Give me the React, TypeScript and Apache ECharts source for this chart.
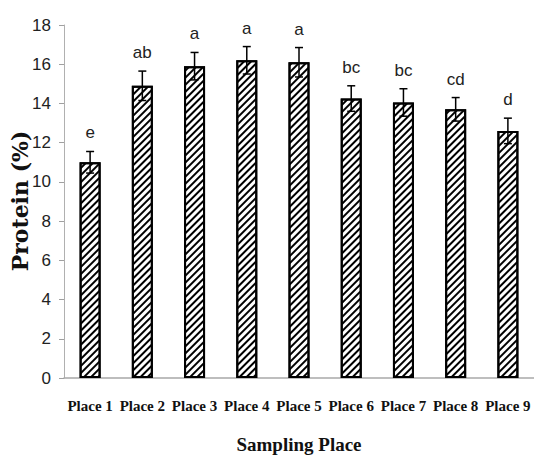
import React, { useEffect, useRef } from "react";
import * as echarts from "echarts";

const categories = ["Place 1", "Place 2", "Place 3", "Place 4", "Place 5", "Place 6", "Place 7", "Place 8", "Place 9"];
const proteinValues = [11.0, 14.9, 15.9, 16.2, 16.1, 14.25, 14.05, 13.7, 12.6];
const errorValues = [0.55, 0.75, 0.7, 0.7, 0.75, 0.65, 0.7, 0.6, 0.65];
const groupLetters = ["e", "ab", "a", "a", "a", "bc", "bc", "cd", "d"];
const yTicks = { min: 0, max: 18, interval: 2 };

const narrowSans = "'Liberation Sans Narrow', 'Liberation Sans', sans-serif";
const boldSerif = "'Liberation Serif', 'Times New Roman', serif";

export default function App() {
  const ref = useRef<HTMLDivElement>(null);

  useEffect(() => {
    document.body.style.margin = "0";
    if (!ref.current) return;
    const chart = echarts.init(ref.current, null, { renderer: "svg" });

    const errData = proteinValues.map((v, i) => [i, v, errorValues[i]]);

    chart.setOption({
      animation: false,
      backgroundColor: "#ffffff",
      grid: { left: 64, right: -4, top: 25, bottom: 80, containLabel: false },
      graphic: [
        {
          type: "text",
          x: 20,
          y: 201,
          rotation: Math.PI / 2,
          style: {
            text: "Protein (%)",
            align: "center",
            verticalAlign: "middle",
            fontFamily: "'DejaVu Serif', serif",
            fontWeight: "bold",
            fontSize: 22,
            fill: "#111",
          },
        },
      ],
      xAxis: {
        type: "category",
        data: categories,
        name: "Sampling Place",
        nameLocation: "middle",
        nameGap: 57,
        nameTextStyle: { fontFamily: boldSerif, fontWeight: "bold", fontSize: 19, color: "#111" },
        axisLine: { show: true, lineStyle: { color: "#a8a8a8", width: 1.5 } },
        axisTick: { show: false },
        axisLabel: {
          margin: 20,
          interval: 0,
          fontFamily: boldSerif,
          fontWeight: "bold",
          fontSize: 15,
          color: "#111",
        },
      },
      yAxis: {
        type: "value",
        min: yTicks.min,
        max: yTicks.max,
        interval: yTicks.interval,
        splitLine: { show: false },
        axisLine: { show: true, lineStyle: { color: "#b0b0b0", width: 1 } },
        axisTick: { show: true, length: 5, lineStyle: { color: "#a0a0a0" } },
        axisLabel: { margin: 13, fontFamily: narrowSans, fontSize: 17, color: "#222" },
      },
      series: [
        {
          type: "bar",
          data: proteinValues,
          barWidth: 21,
          z: 2,
          itemStyle: {
            color: "#ffffff",
            borderColor: "#000000",
            borderWidth: 2,
            decal: {
              symbol: "rect",
              symbolSize: 1,
              color: "#000000",
              backgroundColor: "#ffffff",
              dashArrayX: [1, 0],
              dashArrayY: [2, 3],
              rotation: -Math.PI / 4,
            },
          },
        },
        {
          type: "custom",
          z: 5,
          data: errData,
          encode: { x: 0, y: 1 },
          renderItem: (params: any, api: any) => {
            const i = api.value(0);
            const v = api.value(1);
            const e = api.value(2);
            const top = api.coord([i, v + e]);
            const bot = api.coord([i, v - e]);
            const cap = 4;
            const ls = { stroke: "#000", lineWidth: 1.5 };
            return {
              type: "group",
              children: [
                { type: "line", shape: { x1: top[0], y1: top[1], x2: bot[0], y2: bot[1] }, style: ls },
                { type: "line", shape: { x1: top[0] - cap, y1: top[1], x2: top[0] + cap, y2: top[1] }, style: ls },
                { type: "line", shape: { x1: bot[0] - cap, y1: bot[1], x2: bot[0] + cap, y2: bot[1] }, style: ls },
                {
                  type: "text",
                  style: {
                    text: groupLetters[params.dataIndex],
                    x: top[0],
                    y: top[1] - 10,
                    align: "center",
                    verticalAlign: "bottom",
                    fontFamily: narrowSans,
                    fontSize: 17,
                    fill: "#222",
                  },
                },
              ],
            };
          },
        },
      ],
    });

    return () => chart.dispose();
  }, []);

  return <div ref={ref} style={{ width: 534, height: 459 }} />;
}
